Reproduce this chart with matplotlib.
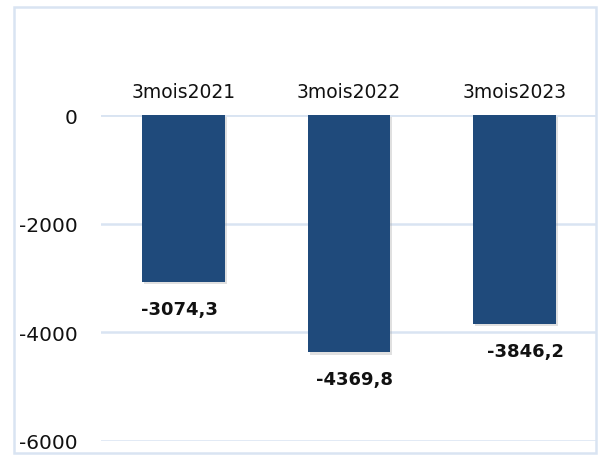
import matplotlib.pyplot as plt
import matplotlib.patheffects as pe
from matplotlib.patches import Rectangle

categories = ['3mois2021', '3mois2022', '3mois2023']
values = [-3074.3, -4369.8, -3846.2]
labels = ['-3074,3', '-4369,8', '-3846,2']
yticks = [0, -2000, -4000, -6000]

# small horizontal nudges of the value labels, in pixels
label_dx = [-4, 6, 11]

fig = plt.figure(figsize=(6.02, 4.56), dpi=100)
ax = fig.add_axes([101 / 602, 1 - 442 / 456, 496 / 602, (442 - 116) / 456])

bars = ax.bar(range(len(categories)), values, width=0.5, color='#1F4A7B', zorder=3)
for b in bars:
    b.set_path_effects([pe.SimplePatchShadow(offset=(1.5, -1.5), shadow_rgbFace='#999999', alpha=0.3),
                        pe.Normal()])

for i, (v, lab) in enumerate(zip(values, labels)):
    ax.annotate(lab, (i, v), xytext=(label_dx[i], -27), textcoords='offset pixels',
                ha='center', va='center', fontsize=13, fontweight='bold', color='#111111')

ax.set_xlim(-0.5, 2.5)
ax.set_ylim(-6000, 0)
ax.set_yticks(yticks)
ax.set_yticklabels([str(t) for t in yticks], fontsize=14.5, color='#111111')
ax.grid(axis='y', color='#D9E4F2', linewidth=1.8, zorder=0)
ax.set_axisbelow(True)
ax.set_xticks(range(len(categories)))
ax.set_xticklabels(categories, fontsize=13.5, color='#111111')
ax.xaxis.tick_top()
ax.tick_params(axis='x', length=0, pad=10)
ax.tick_params(axis='y', length=0, pad=17)
for s in ax.spines.values():
    s.set_visible(False)
ax.axhline(0, color='#D9E4F2', linewidth=1.8, zorder=1)

fig.patches.append(Rectangle((14 / 602, 1 - 454 / 456), 582 / 602, 446 / 456,
                             transform=fig.transFigure, fill=False,
                             edgecolor='#D9E4F2', linewidth=1.8))

fig.savefig('out.png', dpi=100)
